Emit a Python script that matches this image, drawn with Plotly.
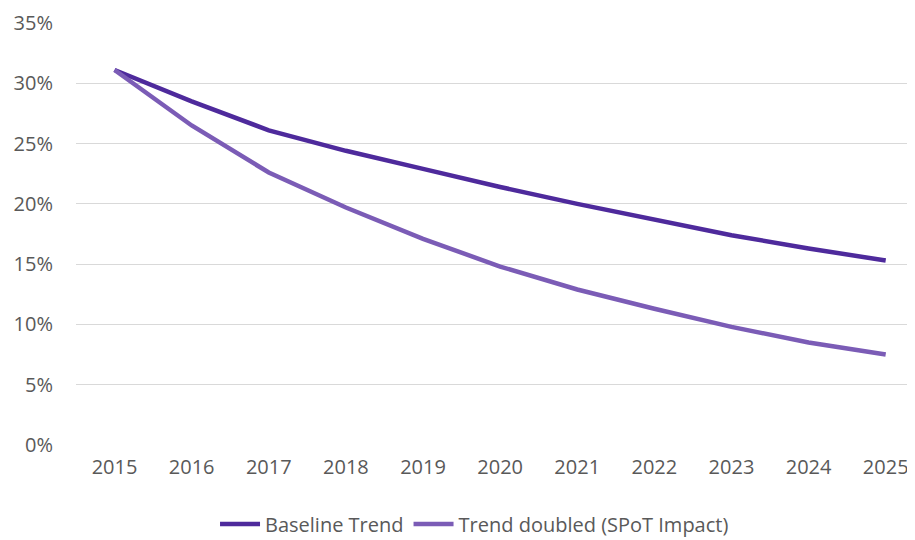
import plotly.graph_objects as go

years = [2015, 2016, 2017, 2018, 2019, 2020, 2021, 2022, 2023, 2024, 2025]
baseline = [0.311, 0.285, 0.261, 0.244, 0.229, 0.214, 0.200, 0.187, 0.174, 0.163, 0.153]
doubled = [0.311, 0.265, 0.226, 0.197, 0.171, 0.148, 0.129, 0.113, 0.098, 0.085, 0.075]
y_ticks = [0, 0.05, 0.10, 0.15, 0.20, 0.25, 0.30, 0.35]
y_labels = ["0%", "5%", "10%", "15%", "20%", "25%", "30%", "35%"]

fig = go.Figure()
fig.add_trace(go.Scatter(x=years, y=baseline, mode="lines", name="Baseline Trend",
                         line=dict(color="#4E2A9C", width=4.5)))
fig.add_trace(go.Scatter(x=years, y=doubled, mode="lines", name="Trend doubled (SPoT Impact)",
                         line=dict(color="#7B5CB6", width=4.5)))

font = dict(family="Open Sans, Liberation Sans, sans-serif", size=20, color="#595959")
fig.update_layout(
    width=907, height=532,
    margin=dict(l=68, r=0, t=15, b=95, autoexpand=False),
    paper_bgcolor="white", plot_bgcolor="white",
    font=font,
    showlegend=True,
    legend=dict(orientation="h", x=0.475, xanchor="center", xref="paper",
                yref="container", y=0.03, yanchor="middle", font=font, itemwidth=40,
                tracegroupgap=0),
    xaxis=dict(range=[2014.5, 2025.38], tickmode="array", tickvals=years,
               ticktext=[str(y) for y in years], showgrid=False, zeroline=False,
               showline=False, ticks="", ticklabelstandoff=8, tickfont=font,
               automargin=False),
    yaxis=dict(range=[0, 0.35], tickmode="array", tickvals=y_ticks, ticktext=y_labels,
               showgrid=True, gridcolor="#D9D9D9", gridwidth=1.3, zeroline=False,
               showline=False, ticks="", ticklabelstandoff=22, tickfont=font,
               automargin=False),
)
fig.write_html("out.html")
